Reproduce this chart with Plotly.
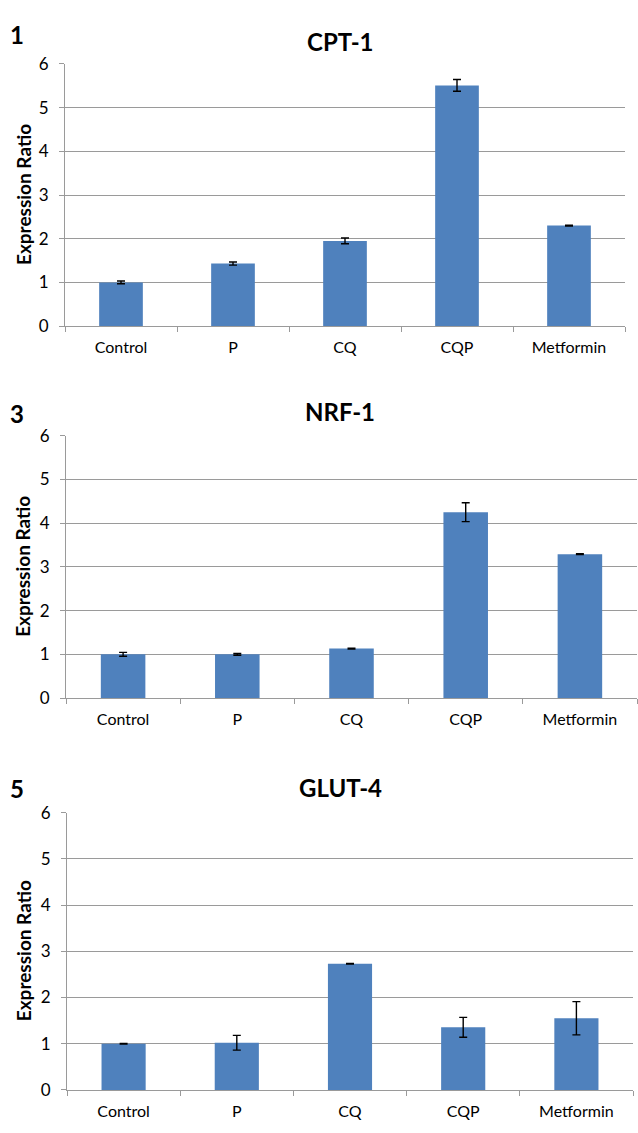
import plotly.graph_objects as go

categories = ["Control", "P", "CQ", "CQP", "Metformin"]

cpt1_values = [1.00, 1.43, 1.95, 5.51, 2.30]
cpt1_errors = [0.03, 0.035, 0.065, 0.135, 0.01]

nrf1_values = [1.00, 1.00, 1.13, 4.25, 3.29]
nrf1_errors = [0.045, 0.02, 0.01, 0.215, 0.01]

glut4_values = [1.00, 1.02, 2.73, 1.355, 1.55]
glut4_errors = [0.005, 0.16, 0.005, 0.215, 0.36]

titles = ["CPT-1", "NRF-1", "GLUT-4"]
panel_labels = ["1", "3", "5"]
y_ticks = [0, 1, 2, 3, 4, 5, 6]

W, H = 638, 1133
BAR = "#4F81BD"
GRID = "#9a9a9a"
FONT = "Lato"

# pixel geometry of each panel: (left, right, top, bottom)
panels = [
    (65, 625, 54, 321),
    (66, 637, 432.7, 700),
    (67, 633, 816.7, 1099.3),
]
title_y = [31, 408, 791]
label_y = [24, 410, 792]

series = [(cpt1_values, cpt1_errors), (nrf1_values, nrf1_errors), (glut4_values, glut4_errors)]

fig = go.Figure()
annotations = []
for i, ((vals, errs), (l, r, t, b)) in enumerate(zip(series, panels)):
    idx = "" if i == 0 else str(i + 1)
    fig.add_trace(go.Bar(
        x=categories, y=vals,
        xaxis="x" + idx, yaxis="y" + idx,
        marker=dict(color=BAR, line=dict(width=0)),
        width=0.39,
        error_y=dict(type="data", array=errs, visible=True, color="black", thickness=1.4, width=4),
        showlegend=False,
    ))
    xd = [l / W, r / W]
    yd = [1 - b / H, 1 - t / H]
    fig.layout["xaxis" + idx] = dict(
        domain=xd, anchor="y" + idx, type="category",
        showgrid=False, showline=True, linecolor=GRID, linewidth=1,
        ticks="outside", tickson="boundaries", ticklen=5, tickcolor=GRID,
        tickfont=dict(family=FONT, size=16, color="black"),
        ticklabelstandoff=7, fixedrange=True,
    )
    fig.layout["yaxis" + idx] = dict(
        domain=yd, anchor="x" + idx, range=[0, 6], tickvals=y_ticks,
        showgrid=True, gridcolor=GRID, gridwidth=1, zeroline=False,
        showline=True, linecolor=GRID, linewidth=1,
        ticks="outside", ticklen=5, tickcolor=GRID,
        tickfont=dict(family=FONT, size=17, color="black"),
        ticklabelstandoff=7, fixedrange=True,
    )
    annotations.append(dict(
        text="<b>" + titles[i] + "</b>", x=340 / W, y=1 - title_y[i] / H,
        xref="paper", yref="paper", xanchor="center", yanchor="middle",
        showarrow=False, font=dict(family=FONT, size=24, color="black"),
    ))
    annotations.append(dict(
        text="<b>" + panel_labels[i] + "</b>", x=17 / W, y=1 - label_y[i] / H,
        xref="paper", yref="paper", xanchor="center", yanchor="middle",
        showarrow=False, font=dict(family=FONT, size=24, color="black"),
    ))
    annotations.append(dict(
        text="<b>Expression Ratio</b>", x=23 / W, y=1 - ((t + b) / 2) / H,
        xref="paper", yref="paper", xanchor="center", yanchor="middle",
        textangle=-90, showarrow=False, font=dict(family=FONT, size=19, color="black"),
    ))

fig.update_layout(
    width=W, height=H,
    margin=dict(l=0, r=0, t=0, b=0),
    paper_bgcolor="white", plot_bgcolor="white",
    annotations=annotations,
)

fig.write_html("out.html")
